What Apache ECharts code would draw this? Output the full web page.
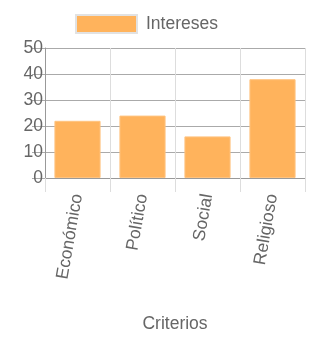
<!DOCTYPE html>
<html>
<head>
<meta charset="utf-8">
<script src="https://cdn.jsdelivr.net/npm/echarts@6/dist/echarts.min.js"></script>
<style>
  html, body { margin: 0; padding: 0; background: #fff; }
  #chart { width: 310px; height: 340px; }
</style>
</head>
<body>
<div id="chart"></div>
<script>
// datos
const categorias = ['Económico', 'Político', 'Social', 'Religioso']
const intereses = [22, 24, 16, 38]
const serieNombre = 'Intereses'
const ejeXNombre = 'Criterios'

const fuente = '"Liberation Sans", Arial, sans-serif'
const gris = '#666'
const tam = 17.5

const chart = echarts.init(document.getElementById('chart'))
chart.setOption({
  animation: false,
  textStyle: { fontFamily: fuente },
  legend: {
    top: 14,
    left: 75,
    padding: 0,
    itemWidth: 61,
    itemHeight: 18,
    icon: 'rect',
    textStyle: { fontSize: tam, color: gris, fontFamily: fuente, padding: [0, 0, 0, 4] },
    itemStyle: { borderColor: '#e2e2e2', borderWidth: 2 },
    data: [serieNombre]
  },
  grid: { left: 45, right: 5, top: 48, bottom: 162 },
  xAxis: {
    type: 'category',
    data: categorias,
    name: ejeXNombre,
    nameLocation: 'middle',
    nameGap: 137,
    nameTextStyle: { fontSize: tam, color: gris, fontFamily: fuente },
    axisLine: { lineStyle: { color: '#999' } },
    axisTick: { show: true, length: 14, lineStyle: { color: '#ddd' } },
    splitLine: { show: true, lineStyle: { color: '#ddd' } },
    axisLabel: {
      rotate: 80,
      margin: 16,
      fontSize: tam,
      color: gris,
      fontFamily: fuente
    }
  },
  yAxis: {
    type: 'value',
    min: 0,
    max: 50,
    interval: 10,
    axisLine: { show: true, lineStyle: { color: '#999' } },
    axisTick: { show: true, length: 13, lineStyle: { color: '#aaa' } },
    splitLine: { show: true, lineStyle: { color: '#aaa' } },
    axisLabel: { fontSize: tam, color: gris, margin: 2, fontFamily: fuente }
  },
  series: [
    {
      name: serieNombre,
      type: 'bar',
      data: intereses,
      barWidth: '71%',
      itemStyle: { color: '#ffb35c', borderColor: '#ffc37f', borderWidth: 1 }
    }
  ]
})
</script>
</body>
</html>
